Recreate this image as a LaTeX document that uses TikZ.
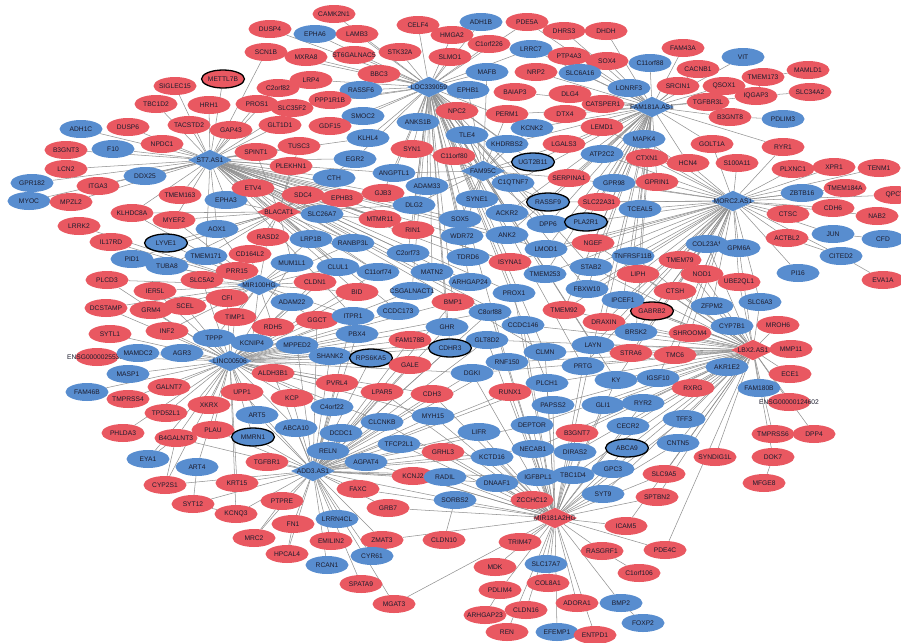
\documentclass[tikz,border=0pt]{standalone}
\usepackage{fontspec}
\setmainfont{Liberation Sans}
\usetikzlibrary{shapes.geometric}
\definecolor{upred}{RGB}{233,88,97}
\definecolor{downblue}{RGB}{88,141,207}
\definecolor{labtext}{RGB}{28,28,45}
\definecolor{linkgray}{RGB}{145,145,145}
\pgfdeclarelayer{background}
\pgfsetlayers{background,main}
\tikzset{
  gene/.style={ellipse, minimum width=1.29cm, minimum height=0.54cm, inner xsep=-0.6cm, inner ysep=0pt, text=labtext, font=\fontsize{5.7}{6}\selectfont},
  upg/.style={gene, fill=upred},
  downg/.style={gene, fill=downblue},
  hit/.style={draw=black, line width=1.1pt},
  lnc/.style={diamond, fill=downblue, minimum width=1.32cm, minimum height=0.62cm, inner sep=0pt, label={[text=labtext, font=\fontsize{5.7}{6}\selectfont]center:#1}},
  lncup/.style={lnc=#1, fill=upred},
  link/.style={draw=linkgray, line width=0.45pt}
}
\begin{document}
\begin{tikzpicture}[x=0.03cm, y=-0.03cm]
    \useasboundingbox (0,0) rectangle (901,642);

    % lncRNA hubs
    \node[lnc=ST7.AS1] (ST7AS1) at (210,160) {};
    \node[lnc=LOC339059] (LOC339059) at (429,87) {};
    \node[lnc=FAM181A.AS1] (FAM181AAS1) at (652,107) {};
    \node[lnc=MORC2.AS1] (MORC2AS1) at (733,201) {};
    \node[lncup=LBX2.AS1] (LBX2AS1) at (753,350) {};
    \node[lncup=MIR181A2HG] (MIR181A2HG) at (555,518) {};
    \node[lnc=ADD3.AS1] (ADD3AS1) at (313,471) {};
    \node[lnc=LINC00506] (LINC00506) at (230,361) {};
    \node[lnc=MIR100HG] (MIR100HG) at (259,285) {};
    \node[lncup=BLACAT1] (BLACAT1) at (279,212) {};
    \node[lnc=FAM95C] (FAM95C) at (483,171) {};

    % left
    \node[upg] (SIGLEC15) at (175,86) {SIGLEC15};
    \node[upg,hit] (METTL7B) at (223,79) {METTL7B};
    \node[upg] (TBC1D2) at (156,104) {TBC1D2};
    \node[upg] (HRH1) at (209,105) {HRH1};
    \node[downg] (ADH1C) at (81,129) {ADH1C};
    \node[upg] (DUSP6) at (128,127) {DUSP6};
    \node[upg] (TACSTD2) at (189,125) {TACSTD2};
    \node[upg] (GAP43) at (231,130) {GAP43};
    \node[upg] (NPDC1) at (162,144) {NPDC1};
    \node[upg] (B3GNT3) at (66,150) {B3GNT3};
    \node[downg] (F10) at (113,149) {F10};
    \node[upg] (LCN2) at (66,169) {LCN2};
    \node[downg] (DDX25) at (145,176) {DDX25};
    \node[downg] (GPR182) at (32,183) {GPR182};
    \node[upg] (ITGA3) at (98,186) {ITGA3};
    \node[upg] (TMEM163) at (180,195) {TMEM163};
    \node[downg] (MYOC) at (29,201) {MYOC};
    \node[upg] (MPZL2) at (71,202) {MPZL2};
    \node[downg] (EPHA3) at (226,200) {EPHA3};
    \node[upg] (KLHDC8A) at (132,213) {KLHDC8A};
    \node[upg] (MYEF2) at (174,220) {MYEF2};
    \node[upg] (LRRK2) at (79,226) {LRRK2};
    \node[downg] (AOX1) at (217,229) {AOX1};
    \node[upg] (IL17RD) at (111,242) {IL17RD};
    \node[downg,hit] (LYVE1) at (166,243) {LYVE1};
    \node[downg] (TMEM171) at (206,256) {TMEM171};
    \node[downg] (PID1) at (132,259) {PID1};
    \node[downg] (TUBA8) at (167,266) {TUBA8};
    \node[upg] (PLCD3) at (107,280) {PLCD3};
    \node[upg] (SLC5A2) at (202,280) {SLC5A2};
    \node[upg] (IER5L) at (155,291) {IER5L};
    \node[upg] (DCSTAMP) at (106,308) {DCSTAMP};
    \node[upg] (GRM4) at (151,310) {GRM4};
    \node[upg] (SCEL) at (185,306) {SCEL};
    \node[upg] (SYTL1) at (110,334) {SYTL1};
    \node[upg] (INF2) at (167,331) {INF2};
    \node[downg] (TPPP) at (214,338) {TPPP};
    \node[upg] (ENSG00000255330) at (97,357) {ENSG00000255330};
    \node[downg] (MAMDC2) at (138,353) {MAMDC2};
    \node[downg] (AGR3) at (182,353) {AGR3};
    \node[downg] (MASP1) at (128,374) {MASP1};
    \node[upg] (GALNT7) at (169,387) {GALNT7};
    \node[downg] (FAM46B) at (87,392) {FAM46B};
    \node[upg] (TMPRSS4) at (128,399) {TMPRSS4};
    \node[upg] (XKRX) at (209,405) {XKRX};
    \node[upg] (TPD52L1) at (166,413) {TPD52L1};
    \node[upg] (PLAU) at (213,430) {PLAU};
    \node[upg] (PHLDA3) at (123,433) {PHLDA3};
    \node[upg] (B4GALNT3) at (176,438) {B4GALNT3};
    \node[downg] (EYA1) at (148,459) {EYA1};
    \node[downg] (ART4) at (197,467) {ART4};
    \node[upg] (CYP2S1) at (165,485) {CYP2S1};
    \node[upg] (SYT12) at (193,504) {SYT12};

    % top centre
    \node[upg] (CAMK2N1) at (334,14) {CAMK2N1};
    \node[upg] (DUSP4) at (270,29) {DUSP4};
    \node[downg] (EPHA6) at (315,34) {EPHA6};
    \node[upg] (LAMB3) at (357,34) {LAMB3};
    \node[upg] (SCN1B) at (266,52) {SCN1B};
    \node[upg] (MXRA8) at (306,57) {MXRA8};
    \node[upg] (ST6GALNAC5) at (354,55) {ST6GALNAC5};
    \node[upg] (STK32A) at (400,52) {STK32A};
    \node[upg] (BBC3) at (379,74) {BBC3};
    \node[upg] (LRP4) at (311,80) {LRP4};
    \node[upg] (C2orf82) at (278,88) {C2orf82};
    \node[downg] (RASSF6) at (361,90) {RASSF6};
    \node[upg] (PROS1) at (257,104) {PROS1};
    \node[upg] (PPP1R1B) at (330,100) {PPP1R1B};
    \node[upg] (SLC35F2) at (292,108) {SLC35F2};
    \node[downg] (SMOC2) at (363,116) {SMOC2};
    \node[downg] (ANKS1B) at (418,122) {ANKS1B};
    \node[upg] (GLT1D1) at (280,125) {GLT1D1};
    \node[upg] (GDF15) at (330,126) {GDF15};
    \node[downg] (KLHL4) at (368,138) {KLHL4};
    \node[upg] (TUSC3) at (299,146) {TUSC3};
    \node[upg] (SYN1) at (412,149) {SYN1};
    \node[upg] (SPINT1) at (256,152) {SPINT1};
    \node[downg] (EGR2) at (355,159) {EGR2};
    \node[upg] (PLEKHN1) at (291,166) {PLEKHN1};
    \node[downg] (ANGPTL1) at (394,173) {ANGPTL1};
    \node[downg] (CTH) at (334,178) {CTH};
    \node[upg] (ETV4) at (253,188) {ETV4};
    \node[upg] (GJB3) at (383,193) {GJB3};
    \node[upg] (SDC4) at (303,195) {SDC4};
    \node[upg] (EPHB3) at (342,198) {EPHB3};
    \node[downg] (ADAM33) at (427,186) {ADAM33};
    \node[downg] (DLG2) at (414,205) {DLG2};
    \node[downg] (SLC26A7) at (322,214) {SLC26A7};
    \node[upg] (MTMR11) at (380,219) {MTMR11};

    % top right
    \node[upg] (CELF4) at (418,25) {CELF4};
    \node[upg] (HMGA2) at (452,35) {HMGA2};
    \node[upg] (SLMO1) at (450,57) {SLMO1};
    \node[downg] (ADH1B) at (481,22) {ADH1B};
    \node[upg] (PDE5A) at (527,22) {PDE5A};
    \node[upg] (DHRS3) at (564,31) {DHRS3};
    \node[upg] (DHDH) at (606,31) {DHDH};
    \node[upg] (C1orf226) at (489,44) {C1orf226};
    \node[downg] (LRRC7) at (531,49) {LRRC7};
    \node[upg] (PTP4A3) at (569,56) {PTP4A3};
    \node[upg] (SOX4) at (607,61) {SOX4};
    \node[downg] (C11orf88) at (650,63) {C11orf88};
    \node[downg] (MAFB) at (487,72) {MAFB};
    \node[upg] (NRP2) at (536,72) {NRP2};
    \node[downg] (SLC6A16) at (580,73) {SLC6A16};
    \node[downg] (EPHB1) at (468,90) {EPHB1};
    \node[upg] (BAIAP3) at (515,92) {BAIAP3};
    \node[upg] (DLG4) at (570,94) {DLG4};
    \node[downg] (LONRF3) at (629,88) {LONRF3};
    \node[upg] (CATSPER1) at (603,104) {CATSPER1};
    \node[upg] (NPC2) at (457,111) {NPC2};
    \node[upg] (PERM1) at (507,114) {PERM1};
    \node[upg] (DTX4) at (565,114) {DTX4};
    \node[downg] (KCNK2) at (532,128) {KCNK2};
    \node[upg] (LEMD1) at (602,127) {LEMD1};
    \node[downg] (TLE4) at (467,135) {TLE4};
    \node[downg] (KHDRBS2) at (507,144) {KHDRBS2};
    \node[upg] (LGALS3) at (564,144) {LGALS3};
    \node[downg] (MAPK4) at (644,139) {MAPK4};
    \node[upg] (C11orf80) at (454,156) {C11orf80};
    \node[downg] (ATP2C2) at (602,154) {ATP2C2};
    \node[upg] (CTXN1) at (647,158) {CTXN1};
    \node[downg,hit] (UGT2B11) at (533,162) {UGT2B11};
    \node[upg] (SERPINA1) at (569,178) {SERPINA1};
    \node[downg] (C1QTNF7) at (513,183) {C1QTNF7};
    \node[downg] (GPR98) at (614,183) {GPR98};
    \node[upg] (GPRIN1) at (657,182) {GPRIN1};
    \node[downg] (SYNE1) at (477,199) {SYNE1};
    \node[downg,hit] (RASSF9) at (548,202) {RASSF9};
    \node[upg] (SLC22A31) at (599,202) {SLC22A31};
    \node[downg] (TCEAL5) at (640,209) {TCEAL5};
    \node[downg] (ACKR2) at (507,213) {ACKR2};
    \node[downg] (SOX5) at (460,219) {SOX5};

    % far right
    \node[upg] (FAM43A) at (683,48) {FAM43A};
    \node[downg] (VIT) at (743,57) {VIT};
    \node[upg] (CACNB1) at (698,69) {CACNB1};
    \node[upg] (MAMLD1) at (808,70) {MAMLD1};
    \node[upg] (TMEM173) at (763,77) {TMEM173};
    \node[upg] (SRCIN1) at (678,86) {SRCIN1};
    \node[upg] (QSOX1) at (724,86) {QSOX1};
    \node[upg] (IQGAP3) at (756,96) {IQGAP3};
    \node[upg] (SLC34A2) at (810,92) {SLC34A2};
    \node[upg] (TGFBR3L) at (708,102) {TGFBR3L};
    \node[upg] (B3GNT8) at (730,117) {B3GNT8};
    \node[downg] (PDLIM3) at (783,119) {PDLIM3};
    \node[upg] (GOLT1A) at (712,144) {GOLT1A};
    \node[upg] (RYR1) at (783,147) {RYR1};
    \node[upg] (HCN4) at (688,163) {HCN4};
    \node[upg] (S100A11) at (737,163) {S100A11};
    \node[upg] (PLXNC1) at (793,169) {PLXNC1};
    \node[upg] (XPR1) at (834,167) {XPR1};
    \node[upg] (TENM1) at (879,168) {TENM1};
    \node[downg] (ZBTB16) at (802,193) {ZBTB16};
    \node[upg] (TMEM184A) at (845,188) {TMEM184A};
    \node[upg] (QPCT) at (895,195) {QPCT};
    \node[upg] (CTSC) at (788,214) {CTSC};
    \node[upg] (CDH6) at (833,208) {CDH6};
    \node[upg] (NAB2) at (877,216) {NAB2};
    \node[downg] (JUN) at (833,234) {JUN};
    \node[upg] (ACTBL2) at (787,238) {ACTBL2};
    \node[downg] (CFD) at (883,239) {CFD};
    \node[downg] (COL23A1) at (707,244) {COL23A1};
    \node[downg] (GPM6A) at (739,248) {GPM6A};
    \node[downg] (CITED2) at (841,256) {CITED2};
    \node[upg] (TMEM79) at (680,260) {TMEM79};
    \node[downg] (PI16) at (798,273) {PI16};
    \node[upg] (NOD1) at (702,274) {NOD1};
    \node[upg] (EVA1A) at (883,280) {EVA1A};
    \node[upg] (UBE2QL1) at (739,282) {UBE2QL1};
    \node[upg] (CTSH) at (675,291) {CTSH};
    \node[downg] (SLC6A3) at (760,302) {SLC6A3};
    \node[downg] (ZFPM2) at (712,306) {ZFPM2};
    \node[upg,hit] (GABRB2) at (652,311) {GABRB2};
    \node[downg] (CYP7B1) at (732,326) {CYP7B1};
    \node[upg] (MROH6) at (778,325) {MROH6};
    \node[upg] (SHROOM4) at (690,333) {SHROOM4};
    \node[upg] (MMP11) at (791,349) {MMP11};
    \node[upg] (TMC6) at (675,355) {TMC6};
    \node[downg] (AKR1E2) at (727,367) {AKR1E2};
    \node[upg] (ECE1) at (790,374) {ECE1};
    \node[downg] (IGSF10) at (658,378) {IGSF10};
    \node[upg] (RXRG) at (693,388) {RXRG};
    \node[downg] (FAM180B) at (759,388) {FAM180B};
    \node[upg] (ENSG00000124602) at (789,402) {ENSG00000124602};
    \node[downg] (TFF3) at (684,419) {TFF3};
    \node[upg] (TMPRSS6) at (773,434) {TMPRSS6};
    \node[upg] (DPP4) at (814,434) {DPP4};
    \node[downg] (CNTN5) at (678,443) {CNTN5};
    \node[upg] (SYNDIG1L) at (715,457) {SYNDIG1L};
    \node[upg] (DOK7) at (773,457) {DOK7};
    \node[upg] (SLC9A5) at (664,474) {SLC9A5};
    \node[upg] (MFGE8) at (764,483) {MFGE8};
    \node[upg] (SPTBN2) at (657,497) {SPTBN2};
    \node[upg] (ICAM5) at (626,526) {ICAM5};
    \node[upg] (PDE4C) at (665,550) {PDE4C};
    \node[upg] (RASGRF1) at (602,551) {RASGRF1};
    \node[upg] (C1orf106) at (639,573) {C1orf106};

    % centre left
    \node[upg] (RIN1) at (413,230) {RIN1};
    \node[upg] (RASD2) at (268,237) {RASD2};
    \node[downg] (LRP1B) at (311,239) {LRP1B};
    \node[downg] (RANBP3L) at (353,243) {RANBP3L};
    \node[downg] (C2orf73) at (408,253) {C2orf73};
    \node[upg] (CD164L2) at (250,254) {CD164L2};
    \node[downg] (MUM1L1) at (292,263) {MUM1L1};
    \node[downg] (CLUL1) at (338,267) {CLUL1};
    \node[downg] (C11orf74) at (378,272) {C11orf74};
    \node[downg] (MATN2) at (432,272) {MATN2};
    \node[upg] (PRR15) at (237,271) {PRR15};
    \node[upg] (CLDN1) at (315,282) {CLDN1};
    \node[upg] (BID) at (357,292) {BID};
    \node[downg] (CSGALNACT1) at (412,291) {CSGALNACT1};
    \node[upg] (CFI) at (227,298) {CFI};
    \node[downg] (ADAM22) at (292,302) {ADAM22};
    \node[upg] (TIMP1) at (235,317) {TIMP1};
    \node[upg] (GGCT) at (317,320) {GGCT};
    \node[downg] (ITPR1) at (353,316) {ITPR1};
    \node[downg] (CCDC173) at (398,311) {CCDC173};
    \node[upg] (RDH5) at (273,327) {RDH5};
    \node[downg] (PBX4) at (357,334) {PBX4};
    \node[upg] (FAM178B) at (410,340) {FAM178B};
    \node[downg] (KCNIP4) at (252,343) {KCNIP4};
    \node[downg] (MPPED2) at (297,345) {MPPED2};
    \node[downg] (SHANK2) at (330,356) {SHANK2};
    \node[downg,hit] (RPS6KA5) at (371,358) {RPS6KA5};
    \node[upg] (GALE) at (410,365) {GALE};
    \node[upg] (ALDH3B1) at (273,373) {ALDH3B1};
    \node[upg] (PVRL4) at (337,383) {PVRL4};
    \node[upg] (LPAR5) at (382,392) {LPAR5};
    \node[upg] (CDH3) at (432,394) {CDH3};
    \node[upg] (UPP1) at (242,392) {UPP1};
    \node[upg] (KCP) at (292,398) {KCP};
    \node[downg] (C4orf22) at (332,407) {C4orf22};
    \node[downg] (ART5) at (257,415) {ART5};
    \node[downg] (MYH15) at (433,416) {MYH15};
    \node[downg] (CLCNKB) at (382,422) {CLCNKB};
    \node[downg] (ABCA10) at (296,428) {ABCA10};
    \node[downg,hit] (MMRN1) at (253,437) {MMRN1};
    \node[downg] (DCDC1) at (341,433) {DCDC1};
    \node[downg] (RELN) at (328,451) {RELN};
    \node[downg] (TFCP2L1) at (399,444) {TFCP2L1};
    \node[upg] (GRHL3) at (443,452) {GRHL3};
    \node[downg] (AGPAT4) at (366,462) {AGPAT4};
    \node[upg] (TGFBR1) at (267,462) {TGFBR1};
    \node[upg] (KCNJ2) at (413,476) {KCNJ2};
    \node[downg] (RADIL) at (445,477) {RADIL};
    \node[upg] (KRT15) at (237,483) {KRT15};
    \node[upg] (FAXC) at (358,489) {FAXC};
    \node[downg] (SORBS2) at (455,500) {SORBS2};
    \node[upg] (PTPRE) at (282,501) {PTPRE};
    \node[upg] (GRB7) at (388,508) {GRB7};
    \node[upg] (KCNQ3) at (236,514) {KCNQ3};
    \node[downg] (LRRN4CL) at (337,519) {LRRN4CL};
    \node[upg] (FN1) at (293,524) {FN1};
    \node[upg] (MRC2) at (254,538) {MRC2};
    \node[upg] (EMILIN2) at (331,541) {EMILIN2};
    \node[upg] (ZMAT3) at (382,540) {ZMAT3};
    \node[upg] (CLDN10) at (444,540) {CLDN10};
    \node[upg] (HPCAL4) at (287,554) {HPCAL4};
    \node[downg] (CYR61) at (372,556) {CYR61};
    \node[downg] (RCAN1) at (327,565) {RCAN1};
    \node[upg] (SPATA9) at (361,584) {SPATA9};
    \node[upg] (MGAT3) at (394,604) {MGAT3};

    % centre
    \node[downg] (WDR72) at (462,236) {WDR72};
    \node[downg] (ANK2) at (507,235) {ANK2};
    \node[downg] (DPP6) at (548,224) {DPP6};
    \node[downg,hit] (PLA2R1) at (586,222) {PLA2R1};
    \node[upg] (NGEF) at (593,243) {NGEF};
    \node[downg] (LMOD1) at (546,249) {LMOD1};
    \node[downg] (TNFRSF11B) at (633,256) {TNFRSF11B};
    \node[downg] (TDRD6) at (468,257) {TDRD6};
    \node[upg] (ISYNA1) at (510,262) {ISYNA1};
    \node[downg] (STAB2) at (591,267) {STAB2};
    \node[downg] (TMEM253) at (545,274) {TMEM253};
    \node[upg] (LIPH) at (638,274) {LIPH};
    \node[downg] (ARHGAP24) at (470,282) {ARHGAP24};
    \node[downg] (FBXW10) at (587,289) {FBXW10};
    \node[downg] (PROX1) at (514,293) {PROX1};
    \node[downg] (IPCEF1) at (623,300) {IPCEF1};
    \node[upg] (BMP1) at (453,302) {BMP1};
    \node[upg] (TMEM92) at (564,310) {TMEM92};
    \node[downg] (C8orf88) at (490,312) {C8orf88};
    \node[upg] (DRAXIN) at (604,322) {DRAXIN};
    \node[downg] (CCDC146) at (523,325) {CCDC146};
    \node[downg] (GHR) at (447,327) {GHR};
    \node[downg] (BRSK2) at (636,332) {BRSK2};
    \node[downg] (GLT8D2) at (487,340) {GLT8D2};
    \node[downg] (LAYN) at (593,345) {LAYN};
    \node[downg,hit] (CDHR3) at (450,348) {CDHR3};
    \node[downg] (CLMN) at (545,352) {CLMN};
    \node[upg] (STRA6) at (631,353) {STRA6};
    \node[downg] (RNF150) at (507,362) {RNF150};
    \node[downg] (PRTG) at (583,366) {PRTG};
    \node[downg] (DGKI) at (472,373) {DGKI};
    \node[downg] (KY) at (616,380) {KY};
    \node[downg] (PLCH1) at (547,383) {PLCH1};
    \node[upg] (RUNX1) at (510,392) {RUNX1};
    \node[downg] (PAPSS2) at (553,405) {PAPSS2};
    \node[downg] (GLI1) at (603,405) {GLI1};
    \node[downg] (RYR2) at (643,403) {RYR2};
    \node[downg] (DEPTOR) at (532,425) {DEPTOR};
    \node[downg] (CECR2) at (628,426) {CECR2};
    \node[upg] (B3GNT7) at (577,433) {B3GNT7};
    \node[downg] (LIFR) at (479,432) {LIFR};
    \node[downg] (NECAB1) at (533,449) {NECAB1};
    \node[downg] (DIRAS2) at (575,452) {DIRAS2};
    \node[downg,hit] (ABCA9) at (627,448) {ABCA9};
    \node[downg] (KCTD16) at (492,457) {KCTD16};
    \node[downg] (IGFBPL1) at (538,477) {IGFBPL1};
    \node[downg] (TBC1D4) at (573,475) {TBC1D4};
    \node[downg] (GPC3) at (613,469) {GPC3};
    \node[downg] (DNAAF1) at (497,483) {DNAAF1};
    \node[downg] (SYT9) at (603,494) {SYT9};
    \node[upg] (ZCCHC12) at (532,500) {ZCCHC12};

    % bottom
    \node[upg] (TRIM47) at (520,542) {TRIM47};
    \node[upg] (MDK) at (495,567) {MDK};
    \node[downg] (SLC17A7) at (546,564) {SLC17A7};
    \node[upg] (PDLIM4) at (500,590) {PDLIM4};
    \node[upg] (COL8A1) at (548,583) {COL8A1};
    \node[upg] (ADORA1) at (577,603) {ADORA1};
    \node[downg] (BMP2) at (621,603) {BMP2};
    \node[upg] (CLDN16) at (526,610) {CLDN16};
    \node[upg] (ARHGAP23) at (485,615) {ARHGAP23};
    \node[downg] (FOXP2) at (643,623) {FOXP2};
    \node[upg] (REN) at (507,632) {REN};
    \node[downg] (EFEMP1) at (557,632) {EFEMP1};
    \node[upg] (ENTPD1) at (595,635) {ENTPD1};

    \begin{pgfonlayer}{background}
    \fill[white] (0,0) rectangle (901,642);
    \path[link] (ST7AS1) edge (SIGLEC15) edge (METTL7B) edge (TBC1D2) edge (HRH1) edge (ADH1C)
        edge (DUSP6) edge (TACSTD2) edge (GAP43) edge (NPDC1) edge (B3GNT3) edge (F10) edge (LCN2)
        edge (DDX25) edge (GPR182) edge (ITGA3) edge (TMEM163) edge (MYOC) edge (MPZL2) edge (EPHA3)
        edge (KLHDC8A) edge (MYEF2) edge (PROS1) edge (GLT1D1) edge (SPINT1) edge (PLEKHN1) edge (TUSC3)
        edge (SLC35F2) edge (C2orf82) edge (SCN1B) edge (ETV4) edge (SDC4) edge (CTH) edge (EGR2)
        edge (EPHB3) edge (GJB3) edge (SLC26A7) edge (LRP1B) edge (RANBP3L) edge (MTMR11) edge (CLUL1)
        edge (C11orf74) edge (DLG2) edge (SOX5) edge (WDR72) edge (TDRD6) edge (ISYNA1) edge (ANK2)
        edge (C2orf73) edge (MATN2) edge (RIN1) edge (BID) edge (CCDC173) edge (ITPR1) edge (PROX1)
        edge (TMEM253) edge (LMOD1) edge (CLMN) edge (CCDC146) edge (C8orf88) edge (ARHGAP24)
        edge (ANGPTL1) edge (KLHL4) edge (AOX1) edge (TMEM171);
    \path[link] (LOC339059) edge (CAMK2N1) edge (DUSP4) edge (EPHA6) edge (LAMB3) edge (ST6GALNAC5)
        edge (STK32A) edge (BBC3) edge (MXRA8) edge (LRP4) edge (RASSF6) edge (PPP1R1B) edge (CELF4)
        edge (HMGA2) edge (SLMO1) edge (ADH1B) edge (C1orf226) edge (MAFB) edge (EPHB1) edge (SMOC2)
        edge (ANKS1B) edge (GDF15) edge (KLHL4) edge (LRRC7) edge (NPC2) edge (TLE4) edge (SYN1)
        edge (C11orf80) edge (EGR2) edge (ANGPTL1) edge (ADAM33) edge (GJB3) edge (SYNE1) edge (C1QTNF7)
        edge (KHDRBS2) edge (UGT2B11) edge (KCNK2) edge (ACKR2) edge (ANK2) edge (DPP6) edge (RASSF9)
        edge (ISYNA1) edge (TMEM253) edge (STAB2) edge (FBXW10) edge (PROX1) edge (CLMN) edge (LAYN)
        edge (PRTG) edge (PLCH1) edge (RNF150) edge (DLG2) edge (RIN1) edge (C2orf73) edge (MATN2)
        edge (CSGALNACT1) edge (WDR72) edge (TDRD6) edge (ARHGAP24) edge (BMP1) edge (GHR) edge (CDHR3)
        edge (KY) edge (SCN1B) edge (SLC35F2) edge (PDE5A);
    \path[link] (FAM181AAS1) edge (DHRS3) edge (DHDH) edge (PTP4A3) edge (SOX4) edge (C11orf88)
        edge (NRP2) edge (SLC6A16) edge (LONRF3) edge (CATSPER1) edge (DLG4) edge (DTX4) edge (BAIAP3)
        edge (PERM1) edge (LEMD1) edge (LGALS3) edge (MAPK4) edge (ATP2C2) edge (CTXN1) edge (FAM43A)
        edge (VIT) edge (CACNB1) edge (SRCIN1) edge (QSOX1) edge (TGFBR3L) edge (B3GNT8) edge (IQGAP3)
        edge (GOLT1A) edge (RYR1) edge (KCNK2) edge (KHDRBS2) edge (SERPINA1) edge (GPR98) edge (SLC22A31)
        edge (RASSF9) edge (PLA2R1) edge (NGEF) edge (STAB2) edge (TNFRSF11B) edge (LIPH) edge (IPCEF1)
        edge (FBXW10) edge (TMEM92) edge (DRAXIN) edge (TCEAL5) edge (GPRIN1) edge (HCN4) edge (UGT2B11)
        edge (C1QTNF7) edge (DPP6) edge (LMOD1) edge (ACKR2) edge (ANK2) edge (TMEM253) edge (LAYN)
        edge (BRSK2) edge (PDE5A) edge (LRRC7);
    \path[link] (MORC2AS1) edge (GOLT1A) edge (HCN4) edge (S100A11) edge (RYR1) edge (PLXNC1)
        edge (XPR1) edge (TENM1) edge (ZBTB16) edge (TMEM184A) edge (QPCT) edge (CTSC) edge (CDH6)
        edge (NAB2) edge (ACTBL2) edge (JUN) edge (CITED2) edge (PI16) edge (COL23A1) edge (GPM6A)
        edge (TMEM79) edge (NOD1) edge (UBE2QL1) edge (GPRIN1) edge (CTXN1) edge (GPR98) edge (TCEAL5)
        edge (TNFRSF11B) edge (LIPH) edge (IPCEF1) edge (GABRB2) edge (BRSK2) edge (STRA6) edge (DRAXIN)
        edge (TMEM92) edge (FBXW10) edge (STAB2) edge (NGEF) edge (PLA2R1) edge (RASSF9) edge (SLC22A31)
        edge (LAYN) edge (PRTG) edge (KY) edge (IGSF10) edge (TMC6) edge (CTSH) edge (SHROOM4)
        edge (ZFPM2) edge (LMOD1) edge (TMEM253) edge (ISYNA1) edge (SERPINA1) edge (ATP2C2)
        edge (MAPK4) edge (LEMD1) edge (SLC6A3);
    \path[link] (LBX2AS1) edge (SLC6A3) edge (MROH6) edge (MMP11) edge (ECE1) edge (FAM180B)
        edge (ENSG00000124602) edge (AKR1E2) edge (CYP7B1) edge (ZFPM2) edge (SHROOM4) edge (TMC6)
        edge (RXRG) edge (TFF3) edge (CNTN5) edge (SYNDIG1L) edge (SLC9A5) edge (SPTBN2) edge (TMPRSS6)
        edge (DPP4) edge (DOK7) edge (GABRB2) edge (CTSH) edge (NOD1) edge (UBE2QL1) edge (TMEM79)
        edge (COL23A1) edge (GPM6A) edge (IGSF10) edge (STRA6) edge (BRSK2) edge (DRAXIN) edge (IPCEF1)
        edge (KY) edge (RYR2) edge (GLI1) edge (CECR2) edge (ABCA9) edge (GPC3) edge (SYT9) edge (TBC1D4)
        edge (DIRAS2) edge (PLCH1) edge (PAPSS2) edge (DEPTOR) edge (CLMN) edge (TMEM92) edge (FBXW10)
        edge (LIPH) edge (TNFRSF11B) edge (LAYN) edge (PRTG) edge (B3GNT7) edge (NECAB1) edge (RNF150)
        edge (DGKI) edge (GLT8D2) edge (CCDC146) edge (NGEF) edge (STAB2) edge (ICAM5) edge (PDE4C);
    \path[link] (MIR181A2HG) edge (TRIM47) edge (MDK) edge (SLC17A7) edge (PDLIM4) edge (COL8A1)
        edge (ADORA1) edge (BMP2) edge (CLDN16) edge (REN) edge (EFEMP1) edge (ENTPD1) edge (RASGRF1)
        edge (ICAM5) edge (PDE4C) edge (SPTBN2) edge (SYT9) edge (GPC3) edge (TBC1D4) edge (IGFBPL1)
        edge (ZCCHC12) edge (DNAAF1) edge (SORBS2) edge (KCTD16) edge (NECAB1) edge (DIRAS2) edge (ABCA9)
        edge (LIFR) edge (DEPTOR) edge (B3GNT7) edge (CECR2) edge (RADIL) edge (GRHL3) edge (KCNJ2)
        edge (GRB7) edge (ZMAT3) edge (MGAT3) edge (GLI1) edge (PAPSS2) edge (PLCH1) edge (RUNX1)
        edge (RNF150) edge (DGKI) edge (CLMN) edge (PRTG) edge (KY) edge (RYR2) edge (MYH15) edge (CDH3)
        edge (GLT8D2) edge (CCDC146) edge (C8orf88) edge (PROX1) edge (LAYN) edge (TFCP2L1) edge (AGPAT4)
        edge (CLCNKB) edge (LPAR5) edge (SLC9A5) edge (TFF3) edge (CNTN5) edge (FAXC);
    \path[link] (ADD3AS1) edge (MMRN1) edge (ABCA10) edge (DCDC1) edge (RELN) edge (TFCP2L1)
        edge (AGPAT4) edge (TGFBR1) edge (KRT15) edge (FAXC) edge (PTPRE) edge (GRB7) edge (KCNQ3)
        edge (LRRN4CL) edge (FN1) edge (EMILIN2) edge (ZMAT3) edge (CYR61) edge (RCAN1) edge (SPATA9)
        edge (MGAT3) edge (KCNJ2) edge (PLAU) edge (SYT12) edge (CYP2S1) edge (B4GALNT3) edge (UPP1)
        edge (KCP) edge (ART5) edge (C4orf22) edge (CLCNKB) edge (MYH15) edge (PVRL4) edge (LPAR5)
        edge (CDH3) edge (GALE) edge (RPS6KA5) edge (SHANK2) edge (MPPED2) edge (PBX4) edge (ITPR1)
        edge (GGCT) edge (FAM178B) edge (CDHR3) edge (DGKI) edge (GLT8D2) edge (RNF150) edge (LIFR)
        edge (KCTD16) edge (RADIL) edge (SORBS2) edge (GRHL3) edge (DNAAF1) edge (RUNX1) edge (PLCH1)
        edge (DEPTOR) edge (NECAB1) edge (IGFBPL1) edge (C8orf88) edge (GHR) edge (BMP1) edge (ALDH3B1)
        edge (HPCAL4) edge (MRC2);
    \path[link] (LINC00506) edge (TPPP) edge (KCNIP4) edge (MAMDC2) edge (AGR3) edge (ENSG00000255330)
        edge (MASP1) edge (FAM46B) edge (GALNT7) edge (TMPRSS4) edge (XKRX) edge (TPD52L1) edge (PLAU)
        edge (PHLDA3) edge (B4GALNT3) edge (EYA1) edge (CYP2S1) edge (ART4) edge (UPP1) edge (ALDH3B1)
        edge (ART5) edge (TIMP1) edge (RDH5) edge (CFI) edge (INF2) edge (SYTL1) edge (SCEL) edge (GRM4)
        edge (DCSTAMP) edge (IER5L) edge (PLCD3) edge (SLC5A2) edge (MPPED2) edge (ADAM22) edge (GGCT)
        edge (ITPR1) edge (PBX4) edge (SHANK2) edge (RPS6KA5) edge (GALE) edge (FAM178B) edge (CCDC173)
        edge (BID) edge (CLDN1) edge (CSGALNACT1) edge (GHR) edge (BMP1) edge (CDHR3) edge (C8orf88)
        edge (PVRL4) edge (KCP) edge (C4orf22) edge (LPAR5) edge (CDH3) edge (MYH15) edge (CLCNKB)
        edge (DGKI) edge (GLT8D2) edge (MUM1L1) edge (CLUL1) edge (C11orf74) edge (KCNQ3) edge (KRT15)
        edge (MMRN1) edge (ABCA10);
    \path[link] (MIR100HG) edge (CD164L2) edge (PRR15) edge (CFI) edge (TIMP1) edge (RASD2) edge (LRP1B)
        edge (MUM1L1) edge (ADAM22) edge (CLDN1) edge (SLC5A2) edge (TUBA8) edge (PID1) edge (LYVE1)
        edge (TMEM171) edge (AOX1) edge (PLCD3) edge (IER5L) edge (GRM4) edge (IL17RD) edge (LRRK2)
        edge (KLHDC8A) edge (CLUL1) edge (RANBP3L) edge (BID) edge (GGCT) edge (RDH5) edge (KCNIP4)
        edge (TPPP) edge (ITPR1) edge (SCEL) edge (INF2) edge (DCSTAMP) edge (MYEF2);
    \path[link] (BLACAT1) edge (SDC4) edge (ETV4) edge (EPHA3) edge (AOX1) edge (TMEM171) edge (RASD2)
        edge (LRP1B) edge (SLC26A7) edge (PLEKHN1) edge (SPINT1) edge (EPHB3) edge (CTH) edge (MYEF2)
        edge (KLHDC8A) edge (TUSC3) edge (GJB3) edge (MTMR11) edge (RANBP3L) edge (CD164L2) edge (MUM1L1)
        edge (CLUL1) edge (LYVE1) edge (TUBA8) edge (PID1) edge (EGR2) edge (DLG2) edge (C11orf74);
    \path[link] (FAM95C) edge (C11orf80) edge (TLE4) edge (KHDRBS2) edge (UGT2B11) edge (C1QTNF7)
        edge (SYNE1) edge (ACKR2) edge (SOX5) edge (DLG2) edge (ADAM33) edge (KCNK2) edge (SERPINA1)
        edge (LGALS3) edge (RASSF9) edge (NPC2) edge (PERM1) edge (ANGPTL1) edge (SYN1) edge (WDR72)
        edge (DPP6) edge (EPHB1) edge (MAFB);
    % single links
    \path[link] (B3GNT8) edge (PDLIM3);
    \path[link] (IQGAP3) edge (SLC34A2) edge (TMEM173);
    \path[link] (TMEM173) edge (MAMLD1);
    \path[link] (CITED2) edge (EVA1A);
    \path[link] (ACTBL2) edge (CITED2);
    \path[link] (JUN) edge (CFD);
    \path[link] (XPR1) edge (PLXNC1);
    \path[link] (BMP2) edge (FOXP2);
    \path[link] (RASGRF1) edge (C1orf106);
    \path[link] (PDLIM4) edge (ARHGAP23);
    \path[link] (SORBS2) edge (CLDN10);
    \path[link] (PTPRE) edge (MRC2);
    \path[link] (FN1) edge (HPCAL4);
    \path[link] (DOK7) edge (MFGE8);
    \path[link] (TMPRSS6) edge (DPP4);
    \path[link] (SYT12) edge (KCNQ3) edge (ART4);
    \path[link] (B4GALNT3) edge (EYA1) edge (CYP2S1);
    \end{pgfonlayer}
\end{tikzpicture}
\end{document}
